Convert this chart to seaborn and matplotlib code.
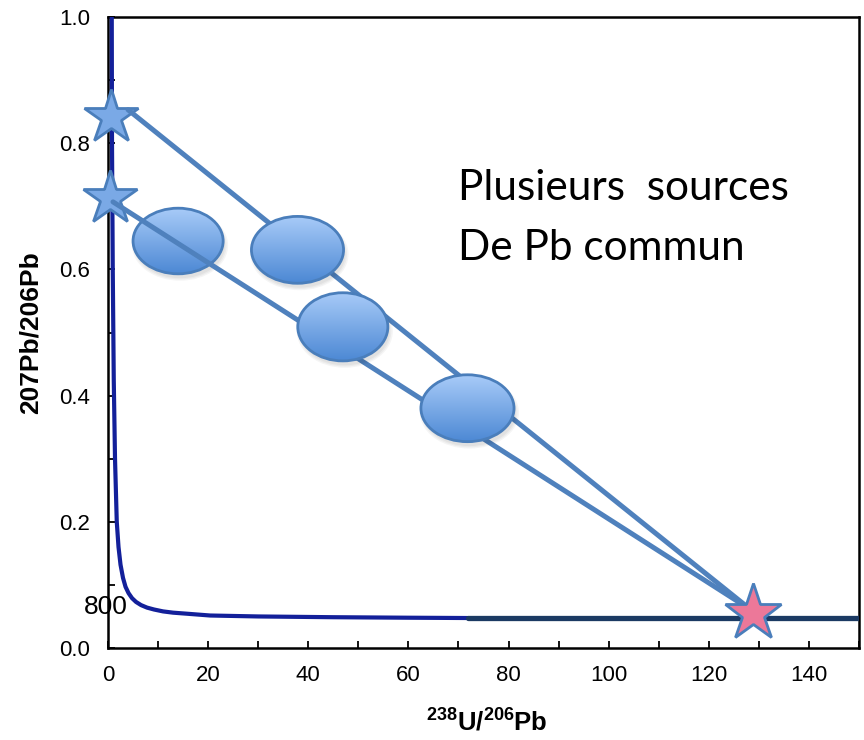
import numpy as np
import matplotlib
matplotlib.use("Agg")
import matplotlib.pyplot as plt
from matplotlib.patches import Ellipse
from matplotlib.colors import LinearSegmentedColormap
from matplotlib.ticker import MultipleLocator, FixedLocator
import seaborn as sns

# Tera-Wasserburg concordia, read point by point
concordia_x = [0.75, 0.8, 0.95, 1.15, 1.4, 1.75, 2.1, 2.5, 3.0, 3.5, 4.1, 4.8,
               5.6, 6.6, 7.8, 9.2, 11.0, 13.0, 15.5, 20.4, 30.0, 45.0, 60.0, 72.0]
concordia_y = [1.00, 0.80, 0.60, 0.425, 0.30, 0.20, 0.16, 0.132, 0.111, 0.097,
               0.087, 0.079, 0.073, 0.068, 0.064, 0.061, 0.058, 0.0560, 0.0545,
               0.0515, 0.0500, 0.0488, 0.0480, 0.0475]

# young part of the concordia, drawn as a heavy segment
young_x = [72.0, 150.0]
young_y = [0.0475, 0.0475]

# common-Pb sources on the 207/206 axis and the radiogenic end member
source_x = [0.5, 0.4]
source_y = [0.842, 0.713]
radiogenic_x = [128.9]
radiogenic_y = [0.056]

# mixing lines between each common-Pb source and the radiogenic pole
mix_x = [[4.0, 128.5], [1.0, 128.5]]
mix_y = [[0.853, 0.060], [0.707, 0.060]]

# analyses (centre, full width, full height)
ell_x = [14.0, 37.85, 46.9, 71.8]
ell_y = [0.645, 0.631, 0.509, 0.380]
ell_w = [18.0, 18.4, 18.0, 18.6]
ell_h = [0.104, 0.106, 0.108, 0.106]

x_ticks = [0, 20, 40, 60, 80, 100, 120, 140]
y_ticks = [0.0, 0.2, 0.4, 0.6, 0.8, 1.0]

sns.set_theme(style="ticks")
plt.rcParams["font.family"] = ["Liberation Sans", "DejaVu Sans"]
plt.rcParams["text.color"] = "black"
plt.rcParams["axes.labelcolor"] = "black"
plt.rcParams["mathtext.fontset"] = "custom"
plt.rcParams["mathtext.rm"] = "Liberation Sans"
plt.rcParams["mathtext.bf"] = "Liberation Sans:bold"

fig = plt.figure(figsize=(8.64, 7.40), dpi=100)
ax = fig.add_axes([0.125, 0.12432, 0.86921, 0.85271])

EDGE = "#4a7ebb"
LINE = "#4f81bd"

# concordia
sns.lineplot(x=concordia_x, y=concordia_y, sort=False, estimator=None,
             color="#13209a", lw=3.0, ax=ax, zorder=3)
sns.lineplot(x=young_x, y=young_y, sort=False, estimator=None,
             color="#1b3a63", lw=3.8, ax=ax, zorder=3)

# ellipses with a vertical gradient fill
grad = np.linspace(0, 1, 256).reshape(-1, 1)
ell_cmap = LinearSegmentedColormap.from_list("ell", ["#a8cbf8", "#4c88d4"])
for i, (cx, cy, w, h) in enumerate(zip(ell_x, ell_y, ell_w, ell_h)):
    z = 2 if i == 0 else 6
    # soft shadow
    for k in range(3):
        sh = Ellipse((cx + 0.4, cy - 0.007), w + 1.2 - k * 0.6, h + 0.008 - k * 0.004,
                     facecolor="black", edgecolor="none", alpha=0.04, zorder=z - 0.2)
        ax.add_patch(sh)
    e = Ellipse((cx, cy), w, h, facecolor="none", edgecolor=EDGE, lw=2.0, zorder=z + 0.1)
    ax.add_patch(e)
    im = ax.imshow(grad, extent=[cx - w / 2, cx + w / 2, cy - h / 2, cy + h / 2],
                   origin="upper", cmap=ell_cmap, aspect="auto",
                   interpolation="bilinear", zorder=z)
    im.set_clip_path(e)

# mixing lines
for xs, ys in zip(mix_x, mix_y):
    sns.lineplot(x=xs, y=ys, sort=False, estimator=None, color=LINE, lw=3.6,
                 ax=ax, zorder=4)
for line in ax.lines[-2:]:
    line.set_solid_capstyle("round")

# end members
ax.plot(source_x, source_y, ls="none", marker="*", ms=41, mfc="#7aa9e6",
        mec=EDGE, mew=2.0, zorder=3.5, clip_on=False)
ax.plot(radiogenic_x, radiogenic_y, ls="none", marker="*", ms=43, mfc="#ec7899",
        mec=EDGE, mew=2.0, zorder=8, clip_on=False)

ax.text(-0.4, 0.065, "800", fontsize=19, ha="center", va="center", zorder=9,
        clip_on=False)
ax.text(69.9, 0.710, "Plusieurs  sources", fontsize=30.5, family="Lato",
        va="baseline", ha="left")
ax.text(69.9, 0.615, "De Pb commun", fontsize=30.5, family="Lato",
        va="baseline", ha="left")

ax.set_xlim(0, 150)
ax.set_ylim(0, 1)
ax.xaxis.set_major_locator(FixedLocator(x_ticks))
ax.yaxis.set_major_locator(FixedLocator(y_ticks))
ax.set_xticklabels([f"{v:d}" for v in x_ticks])
ax.set_yticklabels([f"{v:.1f}" for v in y_ticks])
ax.xaxis.set_minor_locator(MultipleLocator(10))
ax.yaxis.set_minor_locator(MultipleLocator(0.1))
ax.tick_params(axis="both", which="both", direction="in", length=5, width=1.3,
               colors="black", top=False, right=False)
ax.tick_params(axis="both", which="major", labelsize=16)
ax.tick_params(axis="x", which="major", pad=12)
ax.tick_params(axis="y", which="major", pad=13)
for sp in ax.spines.values():
    sp.set_visible(True)
    sp.set_color("black")
    sp.set_linewidth(1.8)
ax.set_facecolor("white")

ax.set_ylabel("207Pb/206Pb", fontsize=19, fontweight="bold", color="black")
ax.yaxis.set_label_coords(-0.0866, 0.5)
ax.set_xlabel(r"$\mathbf{{}^{238}U/{}^{206}Pb}$", fontsize=18.5, color="black")
ax.xaxis.set_label_coords(0.505, -0.097)

fig.savefig("out.png", dpi=100, facecolor="white")
